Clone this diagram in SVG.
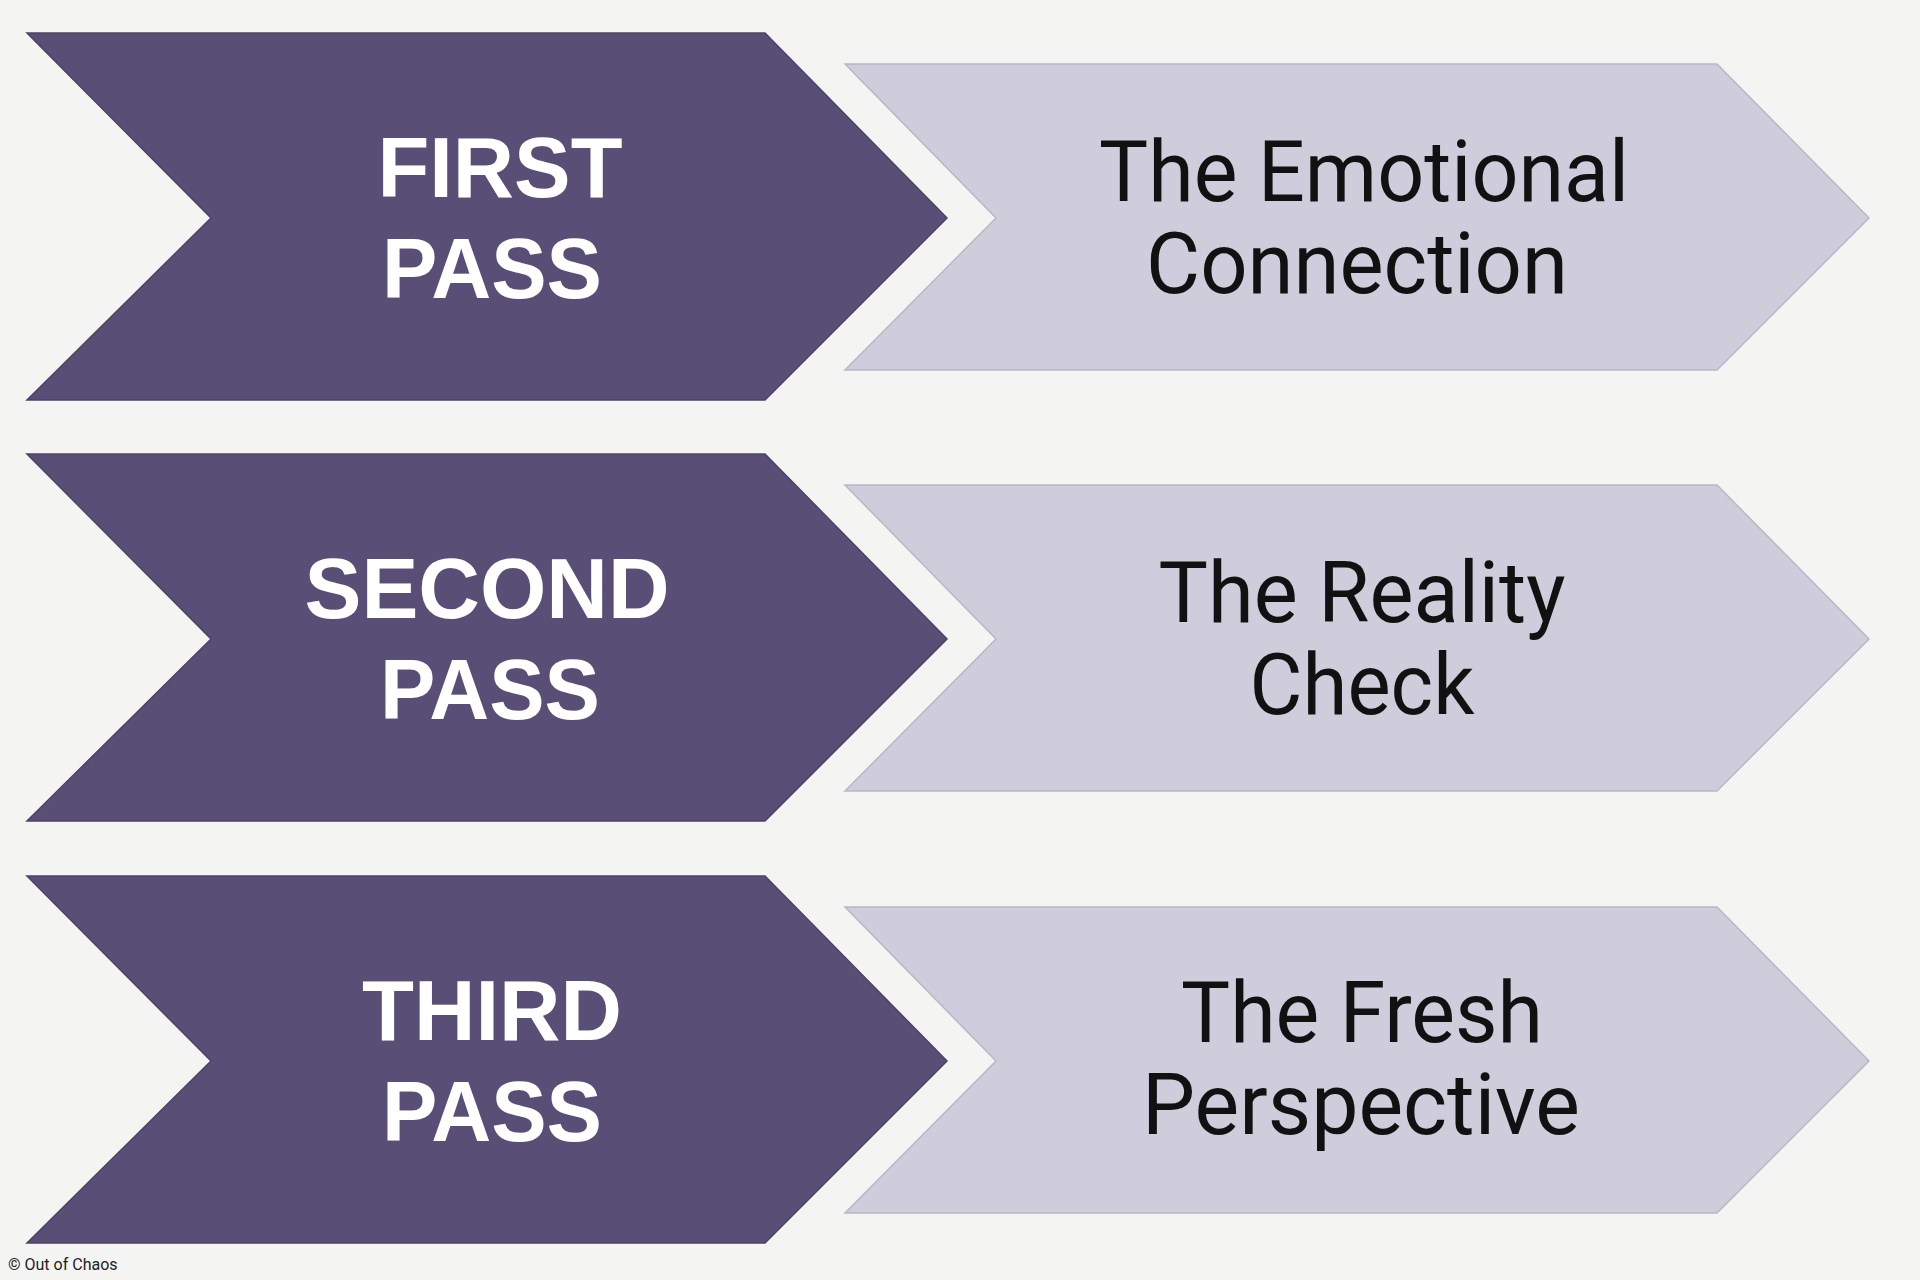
<svg xmlns="http://www.w3.org/2000/svg" width="1920" height="1280" viewBox="0 0 1920 1280">
<defs>
<style>
.dark{fill:#594E75;stroke:#4d4366;stroke-width:1.5}
.light{fill:#CFCDDB;stroke:#b9b7c6;stroke-width:1.5}
.lt{font-family:"Liberation Sans",Arial,sans-serif;font-weight:bold;font-size:86px;fill:#fff;text-anchor:middle}
.rt{font-family:Roboto,"Noto Sans",sans-serif;font-size:85px;fill:#111;text-anchor:middle}
</style>
<polygon id="dk" points="27,33 765,33 947,218 765,400 27,400 211,218"/>
<polygon id="lg" points="845,64 1717,64 1869,218 1717,370 845,370 996,218"/>
</defs>
<rect width="1920" height="1280" fill="#F4F4F2"/>
<g id="row1">
<use href="#dk" class="dark"/><use href="#lg" class="light"/>
<text class="lt" x="500" y="197" textLength="245" lengthAdjust="spacingAndGlyphs">FIRST</text>
<text class="lt" x="492" y="298" textLength="220" lengthAdjust="spacingAndGlyphs">PASS</text>
<text class="rt" x="1364" y="201" textLength="530" lengthAdjust="spacingAndGlyphs">The Emotional</text>
<text class="rt" x="1357" y="293" textLength="422" lengthAdjust="spacingAndGlyphs">Connection</text>
</g>
<g id="row2" transform="translate(0,421)">
<use href="#dk" class="dark"/><use href="#lg" class="light"/>
<text class="lt" x="487" y="197" textLength="365" lengthAdjust="spacingAndGlyphs">SECOND</text>
<text class="lt" x="490" y="298" textLength="220" lengthAdjust="spacingAndGlyphs">PASS</text>
<text class="rt" x="1362" y="201" textLength="407" lengthAdjust="spacingAndGlyphs">The Reality</text>
<text class="rt" x="1362" y="293" textLength="225" lengthAdjust="spacingAndGlyphs">Check</text>
</g>
<g id="row3" transform="translate(0,843)">
<use href="#dk" class="dark"/><use href="#lg" class="light"/>
<text class="lt" x="492" y="197" textLength="260" lengthAdjust="spacingAndGlyphs">THIRD</text>
<text class="lt" x="492" y="298" textLength="220" lengthAdjust="spacingAndGlyphs">PASS</text>
<text class="rt" x="1362" y="199" textLength="362" lengthAdjust="spacingAndGlyphs">The Fresh</text>
<text class="rt" x="1361" y="291" textLength="438" lengthAdjust="spacingAndGlyphs">Perspective</text>
</g>
<g id="connectors"/>
<text x="8" y="1270" font-family="Roboto,'Liberation Sans',sans-serif" font-size="16" fill="#222">© Out of Chaos</text>
</svg>
